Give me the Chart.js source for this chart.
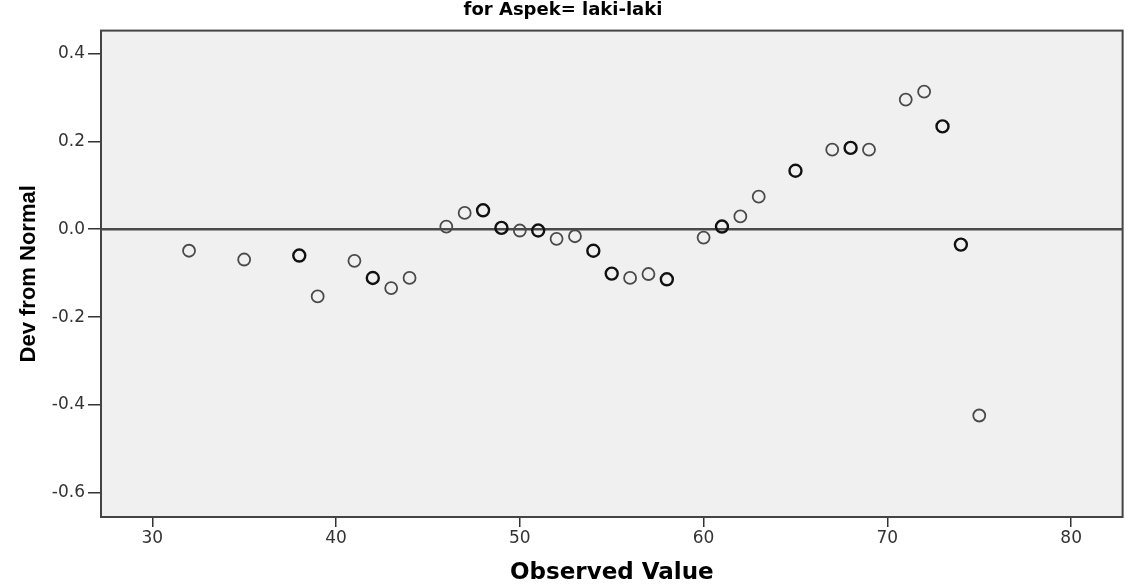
<!DOCTYPE html>
<html>
<head>
<meta charset="utf-8">
<title>Detrended Normal Q-Q Plot</title>
<script src="https://cdn.jsdelivr.net/npm/chart.js@4.4.1/dist/chart.umd.min.js"></script>
<style>
    body { margin: 0; background: #fff; }
    #wrap { width: 1131px; height: 588px; }
</style>
</head>
<body>
<div id="wrap"><canvas id="qq-chart"></canvas></div>
<script>
const observed = [32, 35, 38, 39, 41, 42, 43, 44, 46, 47, 48, 49, 50, 51, 52, 53, 54,
    55, 56, 57, 58, 60, 61, 62, 63, 65, 67, 68, 69, 71, 72, 73, 74, 75];
const deviation = [-0.049, -0.069, -0.060, -0.153, -0.072, -0.111, -0.134, -0.111, 0.006,
    0.037, 0.043, 0.003, -0.003, -0.003, -0.022, -0.016, -0.049, -0.101, -0.111, -0.102,
    -0.114, -0.019, 0.006, 0.029, 0.074, 0.133, 0.181, 0.185, 0.181, 0.295, 0.313, 0.234,
    -0.035, -0.424];
// how many cases sit on each point (darker rings in the original)
const cases = [1, 1, 2, 1, 1, 2, 1, 1, 1, 1, 2, 2, 1, 2, 1, 1, 2,
    2, 1, 1, 2, 1, 2, 1, 1, 2, 1, 2, 1, 1, 1, 2, 2, 1];

const xTicks = [30, 40, 50, 60, 70, 80];
const yTicks = [-0.6, -0.4, -0.2, 0.0, 0.2, 0.4];

const titleText = 'for Aspek= laki-laki';
const xTitle = 'Observed Value';
const yTitle = 'Dev from Normal';

const wide = "'DejaVu Sans', Arial, sans-serif";
const sans = "'Liberation Sans', Arial, sans-serif";

// plot frame, grey fill and the zero line
const framePlugin = {
    id: 'frame',
    beforeDatasetsDraw(chart) {
        const {ctx, chartArea: a, scales} = chart;
        ctx.save();
        ctx.fillStyle = '#f0f0f0';
        ctx.fillRect(a.left, a.top, a.right - a.left, a.bottom - a.top);
        let y0 = scales.y.getPixelForValue(0);
        ctx.strokeStyle = '#4a4a4a';
        ctx.lineWidth = 2.5;
        ctx.beginPath();
        ctx.moveTo(a.left, y0);
        ctx.lineTo(a.right, y0);
        ctx.stroke();
        ctx.strokeStyle = '#444';
        ctx.lineWidth = 2;
        ctx.strokeRect(a.left, a.top, a.right - a.left, a.bottom - a.top);
        ctx.restore();
    }
};

let points = observed.map((v, i) => ({x: v, y: deviation[i]}));

const ctx = document.getElementById('qq-chart').getContext('2d');
const qqChart = new Chart(ctx, {
    type: 'scatter',
    data: {
        datasets: [{
            data: points,
            backgroundColor: 'rgba(0,0,0,0)',
            borderColor: cases.map(c => c > 1 ? '#111' : '#4a4a4a'),
            borderWidth: cases.map(c => c > 1 ? 2.4 : 1.8),
            pointRadius: 6,
            pointHoverRadius: 6
        }]
    },
    options: {
        responsive: true,
        maintainAspectRatio: false,
        animation: false,
        layout: { padding: { left: 0, right: 5, top: 0, bottom: 0 } },
        plugins: {
            legend: { display: false },
            tooltip: { enabled: false },
            title: {
                display: true,
                text: titleText,
                color: '#000',
                font: { family: wide, size: 18, weight: 'bold' },
                padding: { top: 0, bottom: 9 }
            }
        },
        scales: {
            x: {
                type: 'linear',
                min: 27.21,
                max: 82.8,
                afterBuildTicks: s => { s.ticks = xTicks.map(v => ({value: v})); },
                afterFit: s => { s.height = 71; },
                grid: { display: true, drawOnChartArea: false, drawTicks: true, tickLength: 10, color: '#333', lineWidth: 1.5 },
                border: { display: false },
                ticks: {
                    color: '#333',
                    padding: 1,
                    font: { family: wide, size: 17 },
                    callback: v => v
                },
                title: {
                    display: true,
                    text: xTitle,
                    color: '#000',
                    font: { family: wide, size: 23, weight: 'bold' },
                    padding: { top: 0, bottom: 1 }
                }
            },
            y: {
                type: 'linear',
                min: -0.655,
                max: 0.452,
                afterBuildTicks: s => { s.ticks = yTicks.map(v => ({value: v})); },
                afterFit: s => { s.width = 101; },
                grid: { display: true, drawOnChartArea: false, drawTicks: true, tickLength: 13, color: '#333', lineWidth: 1.5 },
                border: { display: false },
                ticks: {
                    color: '#333',
                    padding: 3,
                    font: { family: wide, size: 17 },
                    callback: v => v.toFixed(1)
                },
                title: {
                    display: true,
                    text: yTitle,
                    color: '#000',
                    font: { family: sans, size: 22, weight: 'bold' },
                    padding: { top: 16, bottom: 0 }
                }
            }
        }
    },
    plugins: [framePlugin]
});
</script>
</body>
</html>
